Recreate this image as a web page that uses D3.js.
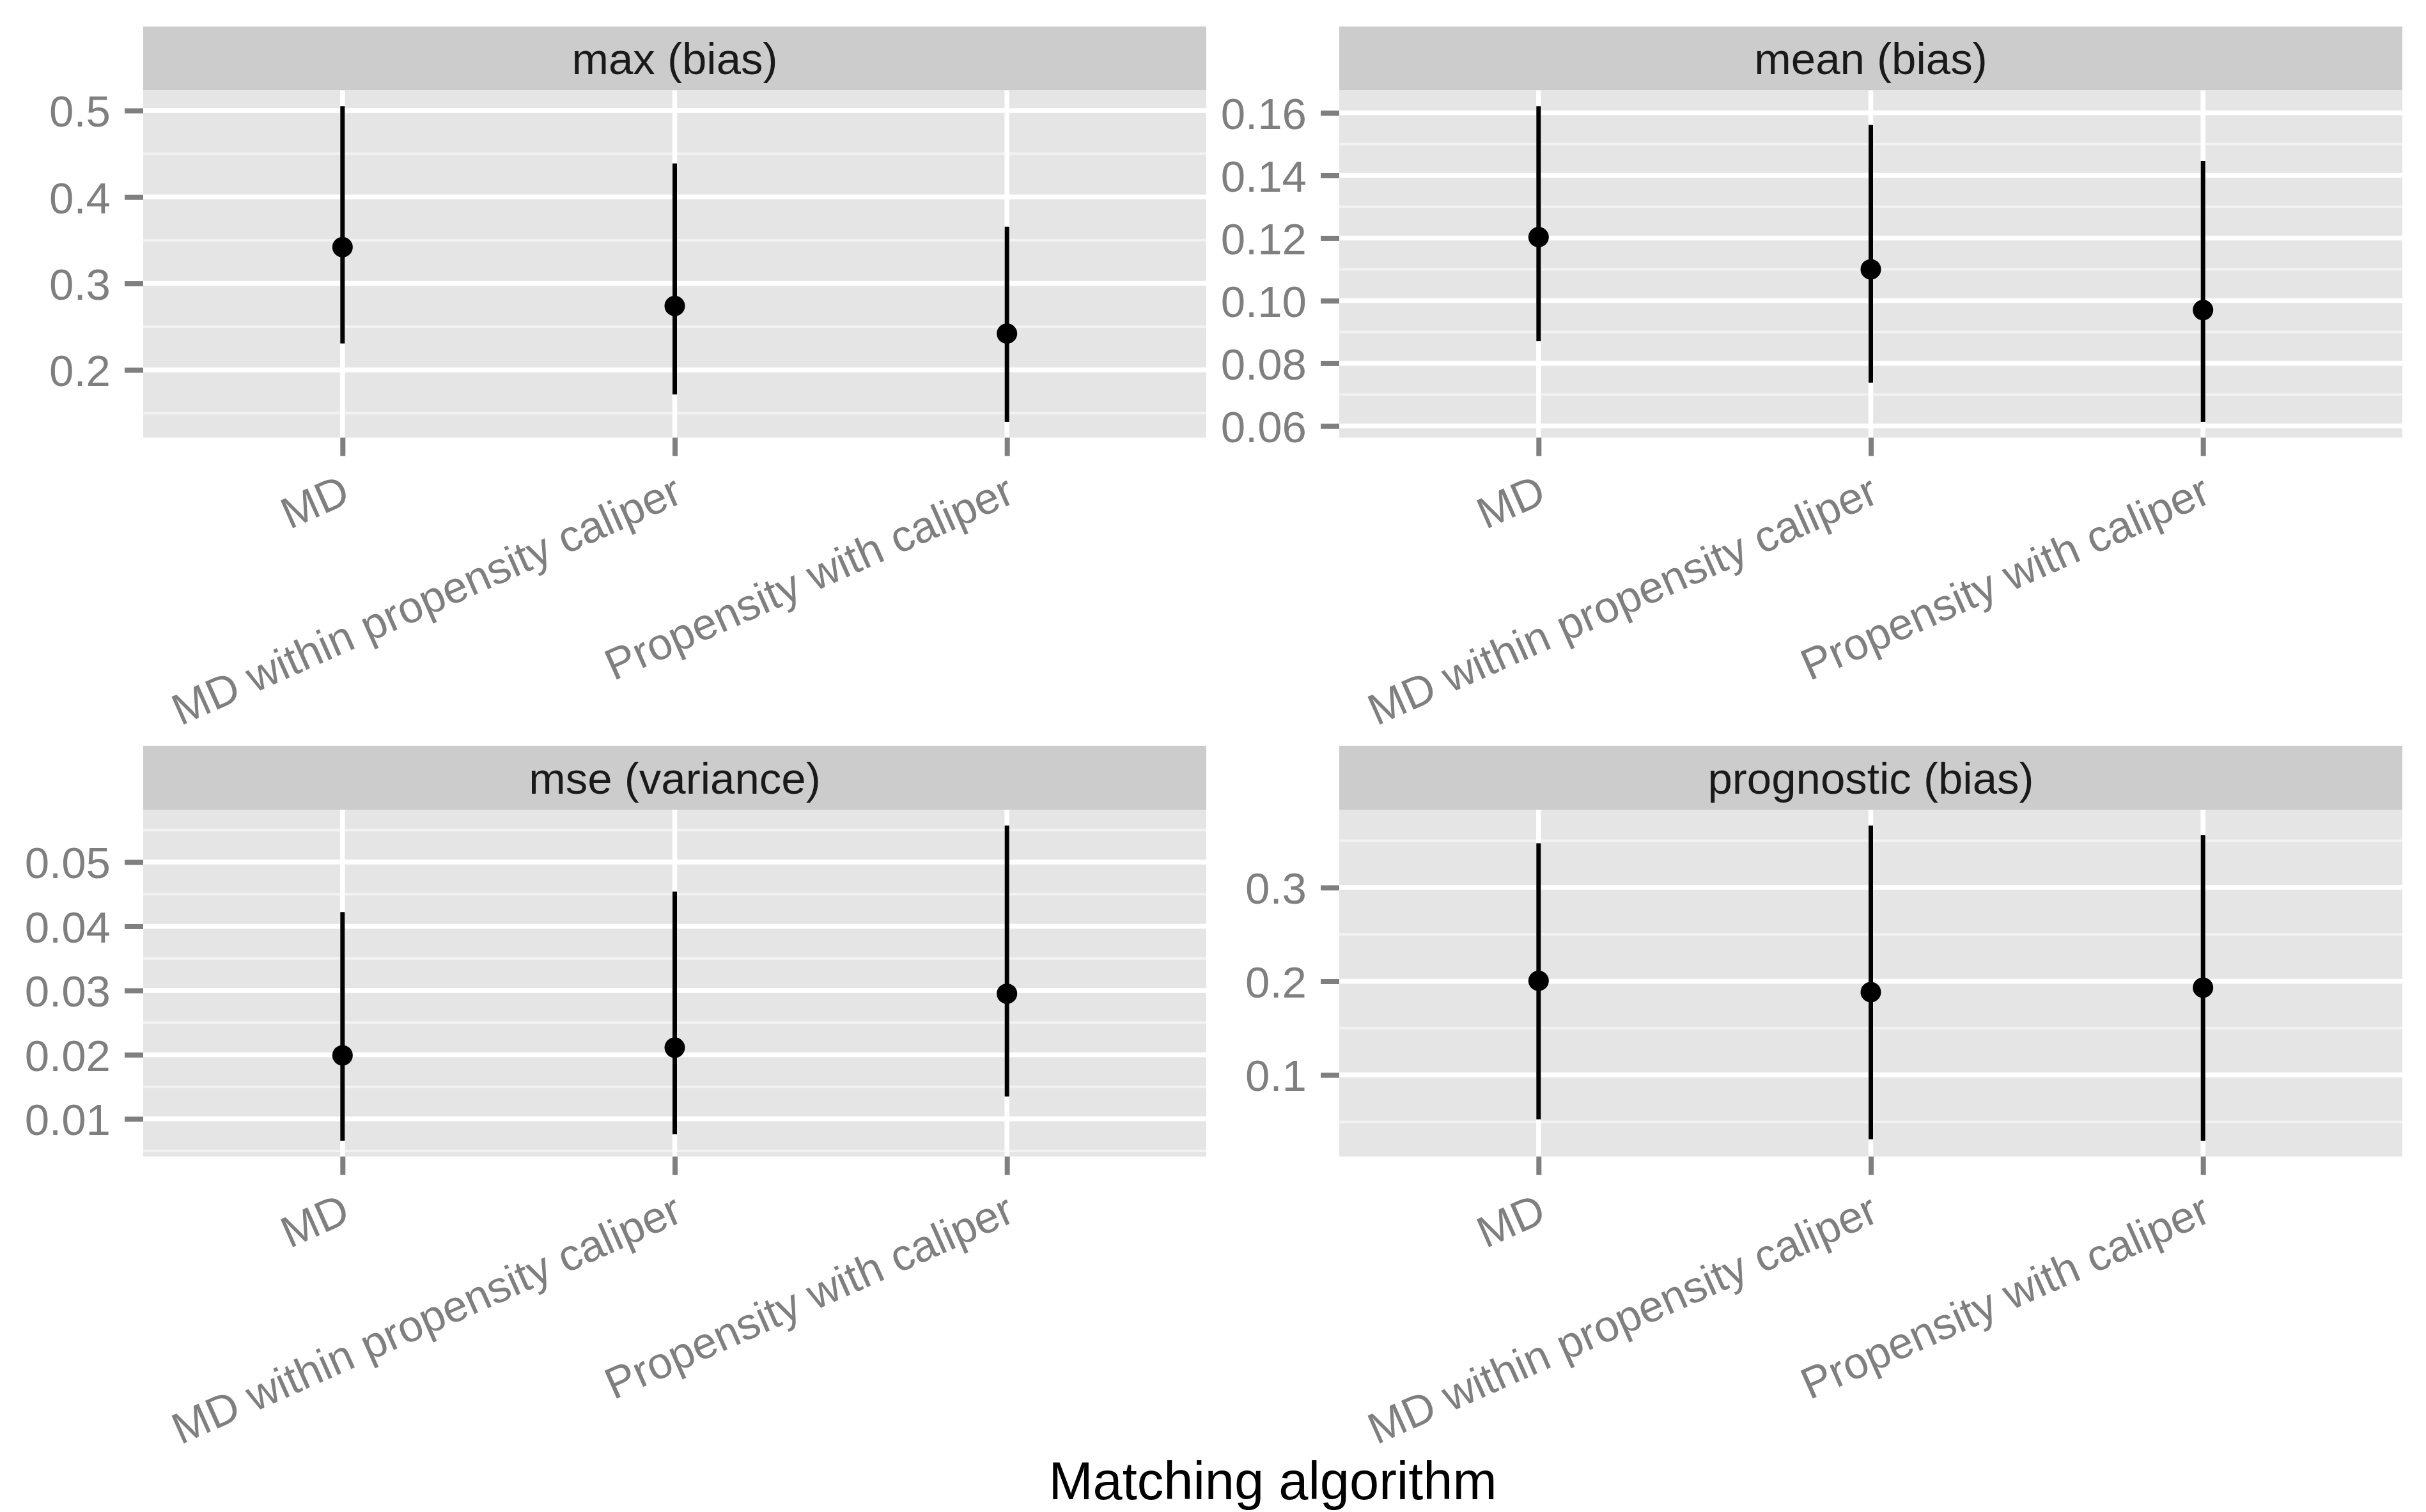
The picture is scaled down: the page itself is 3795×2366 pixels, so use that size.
<!DOCTYPE html>
<html>
<head>
<meta charset="utf-8">
<script src="https://cdn.jsdelivr.net/npm/d3@7"></script>
<style>
  html, body { margin: 0; padding: 0; background: #ffffff; }
  svg { display: block; font-family: "Liberation Sans", Arial, Helvetica, sans-serif; }
</style>
</head>
<body>
<svg id="chart" width="3795" height="2366"></svg>
<script>
// ---------------- data ----------------
const categories = ["MD", "MD within propensity caliper", "Propensity with caliper"];
const panelTitles = ["max (bias)", "mean (bias)", "mse (variance)", "prognostic (bias)"];

const maxBiasEst = [0.342, 0.274, 0.242];
const maxBiasLo  = [0.2306, 0.1716, 0.140];
const maxBiasHi  = [0.505, 0.4388, 0.3657];

const meanBiasEst = [0.1203, 0.110, 0.097];
const meanBiasLo  = [0.087, 0.0738, 0.0613];
const meanBiasHi  = [0.1621, 0.1561, 0.1446];

const mseVarEst = [0.0199, 0.0211, 0.0295];
const mseVarLo  = [0.0066, 0.0076, 0.0135];
const mseVarHi  = [0.0422, 0.0454, 0.0557];

const progBiasEst = [0.2005, 0.1884, 0.1932];
const progBiasLo  = [0.0527, 0.0314, 0.0298];
const progBiasHi  = [0.3474, 0.3663, 0.3559];

const maxTickLabels  = ["0.2", "0.3", "0.4", "0.5"];
const meanTickLabels = ["0.06", "0.08", "0.10", "0.12", "0.14", "0.16"];
const mseTickLabels  = ["0.01", "0.02", "0.03", "0.04", "0.05"];
const progTickLabels = ["0.1", "0.2", "0.3"];

const xTitle = "Matching algorithm";

// ---------------- layout ----------------
const svg = d3.select("#chart");
svg.append("rect").attr("width", 3795).attr("height", 2366).attr("fill", "#ffffff");

const colX = [[224, 1887], [2095, 3758]];
const rowY = [ {stripTop: 41.5, top: 141.5, bottom: 684.7},
               {stripTop: 1167, top: 1267, bottom: 1809.7} ];

const panelDefs = [
  {title: panelTitles[0], est: maxBiasEst,  lo: maxBiasLo,  hi: maxBiasHi,  ticks: maxTickLabels,  col: 0, row: 0},
  {title: panelTitles[1], est: meanBiasEst, lo: meanBiasLo, hi: meanBiasHi, ticks: meanTickLabels, col: 1, row: 0},
  {title: panelTitles[2], est: mseVarEst,   lo: mseVarLo,   hi: mseVarHi,   ticks: mseTickLabels,  col: 0, row: 1},
  {title: panelTitles[3], est: progBiasEst, lo: progBiasLo, hi: progBiasHi, ticks: progTickLabels, col: 1, row: 1}
];

const tickFont = 69, stripFont = 69, titleFont = 83;
const tickLen = 29, tickW = 8;
const grey50 = "#7f7f7f";
const angle = 24;

panelDefs.forEach(p => {
  const [x0, x1] = colX[p.col];
  const r = rowY[p.row];
  const g = svg.append("g");

  // scales
  const x = d3.scalePoint().domain(categories).range([x0, x1]).padding(0.6);
  const dmin = d3.min(p.lo), dmax = d3.max(p.hi);
  const ex = (dmax - dmin) * 0.05;
  const y = d3.scaleLinear().domain([dmin - ex, dmax + ex]).range([r.bottom, r.top]);

  const majorVals = p.ticks.map(Number);
  const step = majorVals[1] - majorVals[0];
  const ext = [majorVals[0] - step].concat(majorVals, [majorVals[majorVals.length - 1] + step]);
  const minorVals = d3.pairs(ext).map(([a, b]) => (a + b) / 2)
    .filter(v => v >= y.domain()[0] && v <= y.domain()[1]);

  // strip
  g.append("rect").attr("x", x0).attr("y", r.stripTop).attr("width", x1 - x0)
    .attr("height", r.top - r.stripTop).attr("fill", "#cccccc");
  g.append("text").attr("x", (x0 + x1) / 2).attr("y", (r.stripTop + r.top) / 2 + 0.36 * stripFont)
    .attr("text-anchor", "middle").attr("font-size", stripFont).attr("fill", "#1a1a1a")
    .text(p.title);

  // panel background
  g.append("rect").attr("x", x0).attr("y", r.top).attr("width", x1 - x0)
    .attr("height", r.bottom - r.top).attr("fill", "#e5e5e5");

  // grid
  g.selectAll(".minor").data(minorVals).enter().append("line")
    .attr("x1", x0).attr("x2", x1).attr("y1", d => y(d)).attr("y2", d => y(d))
    .attr("stroke", "#f2f2f2").attr("stroke-width", 4);
  g.selectAll(".major").data(majorVals).enter().append("line")
    .attr("x1", x0).attr("x2", x1).attr("y1", d => y(d)).attr("y2", d => y(d))
    .attr("stroke", "#ffffff").attr("stroke-width", 7.5);
  g.selectAll(".vmajor").data(categories).enter().append("line")
    .attr("x1", d => x(d)).attr("x2", d => x(d)).attr("y1", r.top).attr("y2", r.bottom)
    .attr("stroke", "#ffffff").attr("stroke-width", 7.5);

  // error bars and points
  const rows = categories.map((c, i) => ({c, est: p.est[i], lo: p.lo[i], hi: p.hi[i]}));
  g.selectAll(".eb").data(rows).enter().append("line")
    .attr("x1", d => x(d.c)).attr("x2", d => x(d.c))
    .attr("y1", d => y(d.lo)).attr("y2", d => y(d.hi))
    .attr("stroke", "#000000").attr("stroke-width", 7);
  g.selectAll(".pt").data(rows).enter().append("circle")
    .attr("cx", d => x(d.c)).attr("cy", d => y(d.est)).attr("r", 16)
    .attr("fill", "#000000");

  // y axis
  const ya = g.append("g").attr("transform", `translate(${x0},0)`)
    .call(d3.axisLeft(y).tickValues(majorVals).tickFormat((d, i) => p.ticks[i])
      .tickSize(tickLen).tickPadding(22));
  ya.select(".domain").remove();
  ya.selectAll(".tick line").attr("stroke", grey50).attr("stroke-width", tickW);
  ya.selectAll(".tick text").attr("fill", grey50).attr("font-size", tickFont)
    .attr("font-family", "'Liberation Sans', Arial, Helvetica, sans-serif")
    .attr("dy", "0.36em");

  // x axis
  const xa = g.append("g").attr("transform", `translate(0,${r.bottom})`)
    .call(d3.axisBottom(x).tickSize(tickLen).tickFormat(""));
  xa.select(".domain").remove();
  xa.selectAll(".tick line").attr("stroke", grey50).attr("stroke-width", tickW);
  xa.selectAll(".tick text").remove();
  g.selectAll(".xl").data(categories).enter().append("text")
    .attr("transform", d => `translate(${x(d) - 5},${r.bottom + tickLen + 26}) rotate(${-angle})`)
    .attr("text-anchor", "end").attr("dy", "0.72em")
    .attr("font-size", tickFont).attr("fill", grey50)
    .text(d => d);
});

// x axis title
svg.append("text").attr("x", (colX[0][0] + colX[1][1]) / 2).attr("y", 2346)
  .attr("text-anchor", "middle").attr("font-size", titleFont).attr("fill", "#000000")
  .text(xTitle);
</script>
</body>
</html>
